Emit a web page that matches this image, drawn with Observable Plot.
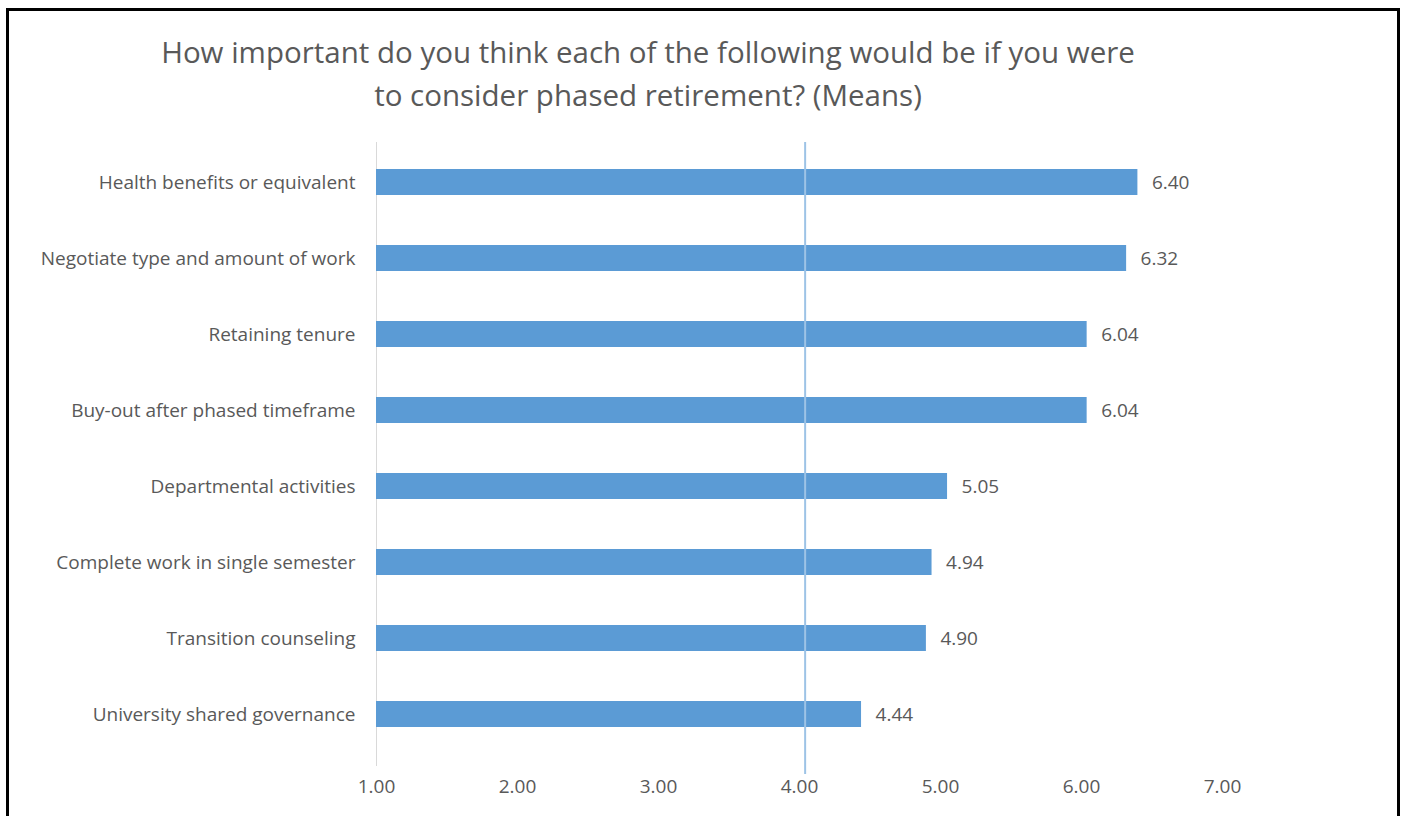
<!DOCTYPE html>
<html>
<head>
<meta charset="utf-8">
<script src="https://cdn.jsdelivr.net/npm/d3@7"></script>
<script src="https://cdn.jsdelivr.net/npm/@observablehq/plot@0.6"></script>
<style>
  html, body { margin: 0; padding: 0; background: #fff; width: 1406px; height: 816px; overflow: hidden; font-family: "Open Sans", "Noto Sans", sans-serif; }
  #frame { position: absolute; left: 6px; top: 8px; width: 1394px; height: 830px; border: 3px solid #000; box-sizing: border-box; }
  #title { position: absolute; left: 0; width: 1296px; top: 30px; text-align: center; font-size: 29.5px; line-height: 43px; color: #595959; }
  #chart { position: absolute; left: 0; top: 129px; }
</style>
</head>
<body>
<div id="frame"></div>
<div id="title">How important do you think each of the following would be if you were<br>to consider phased retirement? (Means)</div>
<div id="chart"></div>
<script>
const categories = [
  "Health benefits or equivalent",
  "Negotiate type and amount of work",
  "Retaining tenure",
  "Buy-out after phased timeframe",
  "Departmental activities",
  "Complete work in single semester",
  "Transition counseling",
  "University shared governance"
];
const means = [6.40, 6.32, 6.04, 6.04, 5.05, 4.94, 4.90, 4.44];
const xTicks = [1, 2, 3, 4, 5, 6, 7];
const referenceLine = [4.04];

const data = categories.map((c, i) => ({category: c, mean: means[i]}));

const chart = Plot.plot({
  width: 1406,
  height: 680,
  marginLeft: 376,
  marginRight: 184,
  marginTop: 13,
  marginBottom: 55,
  style: {fontFamily: "'Open Sans', 'Noto Sans', sans-serif", fontSize: "19px", color: "#595959", background: "transparent"},
  x: {domain: [1, 7]},
  y: {domain: categories, paddingInner: 0.66, paddingOuter: 0.33},
  marks: [
    Plot.ruleX([1], {stroke: "#d9d9d9", strokeWidth: 1, insetBottom: -12}),
    Plot.barX(data, {x1: 1, x2: "mean", y: "category", fill: "#5b9bd5"}),
    Plot.ruleX(referenceLine, {stroke: "#9dc3e6", strokeWidth: 2, insetBottom: -20}),
    Plot.text(data, {x: "mean", y: "category", text: d => d.mean.toFixed(2), textAnchor: "start", dx: 14, fill: "#595959", fontSize: 19}),
    Plot.axisY({tickSize: 0, tickPadding: 21, label: null, fontSize: 19, fill: "#595959"}),
    Plot.axisX({ticks: xTicks, tickSize: 0, tickPadding: 25, tickFormat: d => d.toFixed(2), label: null, fontSize: 19, fill: "#595959"})
  ]
});
document.getElementById("chart").appendChild(chart);
</script>
</body>
</html>
